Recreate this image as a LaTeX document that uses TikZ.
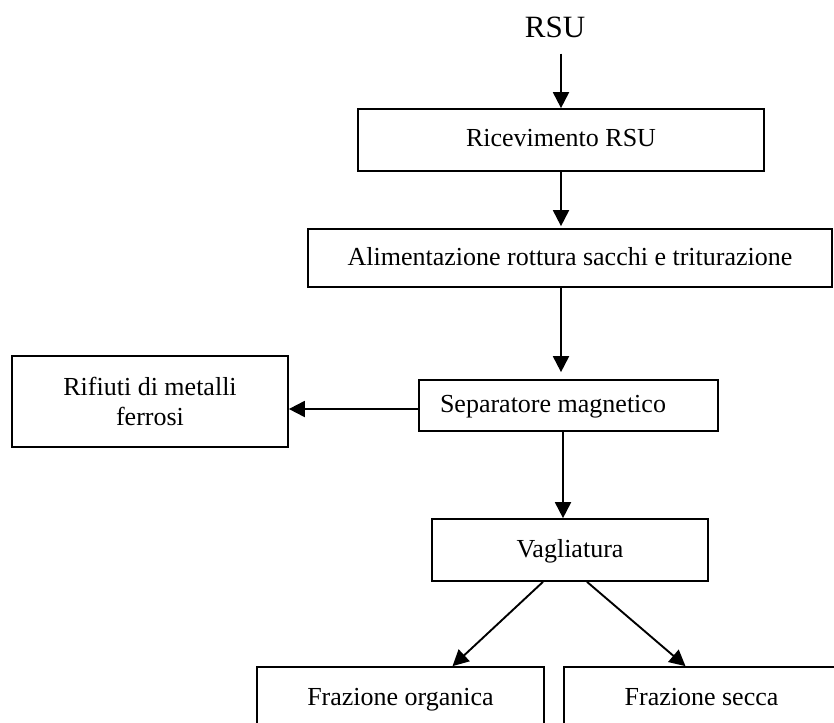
\documentclass[tikz,border=0pt]{standalone}
\usepackage{fontspec}
\setmainfont{Liberation Serif}
\usetikzlibrary{
    arrows.meta,% Triangle tips
    positioning%
}

\begin{document}
\begin{tikzpicture}[x=1pt,y=-1pt,
    box/.style={draw, line width=1.7pt, inner sep=0pt,
        font=\fontsize{26}{30}\selectfont},
    oneline/.style={text height=19pt, text depth=5pt},
    arr/.style={line width=1.9pt, -{Triangle[length=16pt,width=16pt]}}]
    \clip (0,0) rectangle (834,722);

    %%% input
    \node[font=\fontsize{31}{36}\selectfont, anchor=base, inner xsep=0pt, inner ysep=15pt] (rsu) at (555,38) {RSU};

    %%% main line
    \node[box, oneline, minimum width=406pt, minimum height=62pt] (ricev) at (561,140) {Ricevimento RSU};
    \node[box, oneline, minimum width=524pt, minimum height=58pt] (alim) at (570,258) {Alimentazione rottura sacchi e triturazione};
    \node[box, oneline, text width=257pt, inner xsep=21pt, align=flush left, minimum height=51pt] (sep) at (568.5,405.5) {Separatore magnetico};
    \node[box, oneline, minimum width=276pt, minimum height=62pt] (vag) at (570,550) {Vagliatura};

    %%% side output
    \node[box, align=center, minimum width=276pt, minimum height=91pt] (rif) at (150,401.5) {Rifiuti di metalli\\ferrosi};

    %%% final fractions
    \node[box, oneline, minimum width=287pt, minimum height=62pt] (org) at (400.5,698) {Frazione organica};
    \node[box, oneline, minimum width=275pt, minimum height=62pt] (sec) at (701.5,698) {Frazione secca};

    %%% connectors
    \draw[arr] (rsu.south -| ricev.north) -- (ricev.north);
    \draw[arr, shorten >=2pt] (ricev.south) -- (ricev.south |- alim.north);
    \draw[arr, shorten >=7pt] (alim.south -| ricev.south) -- (sep.north -| ricev.south);
    \draw[arr] ([xshift=2pt]sep.south -| ricev.south) -- ([xshift=2pt]vag.north -| ricev.south);
    \draw[arr] ([yshift=-3.5pt]sep.west) -- ([yshift=-3.5pt]sep.west -| rif.east);
    \draw[arr] ([xshift=-27pt]vag.south) -- ([xshift=52pt]org.north);
    \draw[arr] ([xshift=17pt]vag.south) -- ([xshift=-16pt]sec.north);
\end{tikzpicture}
\end{document}
